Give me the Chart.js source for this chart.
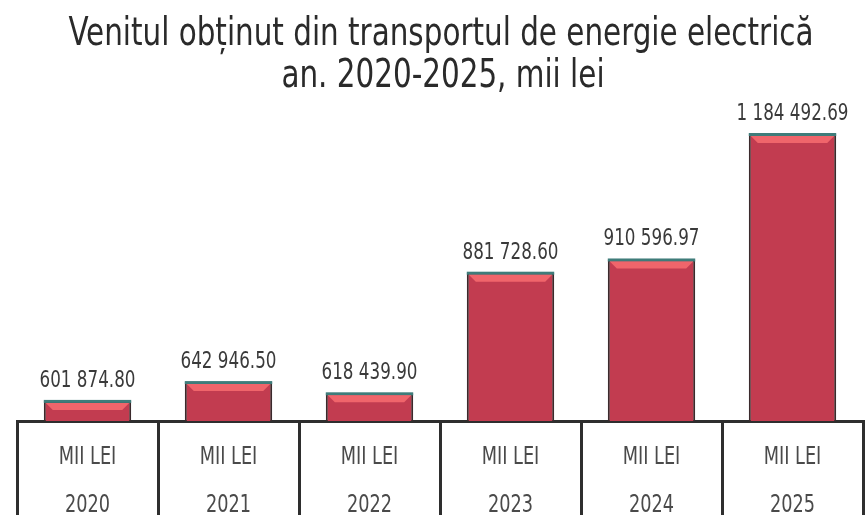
<!DOCTYPE html>
<html>
<head>
<meta charset="utf-8">
<script src="https://cdn.jsdelivr.net/npm/chart.js@4"></script>
<style>
  html, body { margin: 0; padding: 0; background: #fff; }
  #wrap { width: 865px; height: 515px; }
</style>
</head>
<body>
<div id="wrap"><canvas id="myChart" width="865" height="515"></canvas></div>
<script>
const years = ['2020', '2021', '2022', '2023', '2024', '2025'];
const unitLabel = 'MII LEI';
const values = [601874.80, 642946.50, 618439.90, 881728.60, 910596.97, 1184492.69];
const titleLines = ['Venitul obținut din transportul de energie electrică', 'an. 2020-2025, mii lei'];

const FONT = '"DejaVu Sans Condensed", "Liberation Sans Narrow", sans-serif';

function fmt(v) {
    let parts = v.toFixed(2).split('.');
    parts[0] = parts[0].replace(/\B(?=(\d{3})+(?!\d))/g, ' ');
    return parts.join('.');
}

// text squeezed horizontally, the original uses a very narrow face
function narrowText(ctx, text, x, y, size, sx, color) {
    ctx.save();
    ctx.font = size + 'px ' + FONT;
    ctx.fillStyle = color;
    ctx.textAlign = 'center';
    ctx.textBaseline = 'alphabetic';
    ctx.translate(x, y);
    ctx.scale(sx, 1);
    ctx.fillText(text, 0, 0);
    ctx.restore();
}

const barDecor = {
    id: 'barDecor',
    afterDatasetsDraw(chart) {
        const ctx = chart.ctx;
        const meta = chart.getDatasetMeta(0);
        ctx.save();
        meta.data.forEach((bar, i) => {
            const w = bar.width;
            const left = bar.x - w / 2;
            const right = bar.x + w / 2;
            const top = bar.y;
            ctx.fillStyle = '#3f7c7a';
            ctx.fillRect(left, top - 1, w, 3);
            ctx.fillStyle = '#f0656b';
            ctx.beginPath();
            ctx.moveTo(left + 2, top + 2);
            ctx.lineTo(right - 2, top + 2);
            ctx.lineTo(right - 9, top + 9);
            ctx.lineTo(left + 9, top + 9);
            ctx.closePath();
            ctx.fill();
            narrowText(ctx, fmt(values[i]), bar.x, top - 14, 23, 0.81, '#3a3a3a');
        });
        ctx.restore();

        // table labels under the axis
        const xs = chart.scales.x;
        years.forEach((y, i) => {
            const px = xs.getPixelForTick(i);
            narrowText(ctx, unitLabel, px, 464, 24, 0.82, '#4a4a4a');
            narrowText(ctx, y, px, 512, 24, 0.82, '#4a4a4a');
        });

        // title
        ctx.save();
        ctx.font = '39px ' + FONT;
        const w1 = ctx.measureText(titleLines[0]).width;
        ctx.restore();
        const sx = 745 / w1;
        narrowText(ctx, titleLines[0], 441, 45, 39, sx, '#2a2a2a');
        narrowText(ctx, titleLines[1], 443, 87, 39, sx, '#2a2a2a');
    }
};

const ctx = document.getElementById('myChart');
new Chart(ctx, {
    type: 'bar',
    data: {
        labels: years,
        datasets: [{
            data: values,
            backgroundColor: '#c23c50',
            borderColor: '#3b2a2c',
            borderWidth: 2,
            borderSkipped: 'bottom',
            barPercentage: 0.62,
            categoryPercentage: 1
        }]
    },
    options: {
        responsive: false,
        animation: false,
        layout: { padding: { left: 17, right: 2, top: 104, bottom: 0 } },
        plugins: {
            legend: { display: false },
            tooltip: { enabled: false },
            title: { display: false }
        },
        scales: {
            y: {
                display: false,
                min: 558000,
                max: 1250000
            },
            x: {
                afterFit: (scale) => { scale.height = 94; },
                border: { display: true, color: '#2e2e2e', width: 3 },
                grid: {
                    offset: true,
                    drawOnChartArea: false,
                    drawTicks: true,
                    tickLength: 94,
                    color: '#2e2e2e',
                    lineWidth: 3
                },
                ticks: { display: false }
            }
        }
    },
    plugins: [barDecor]
});
</script>
</body>
</html>
